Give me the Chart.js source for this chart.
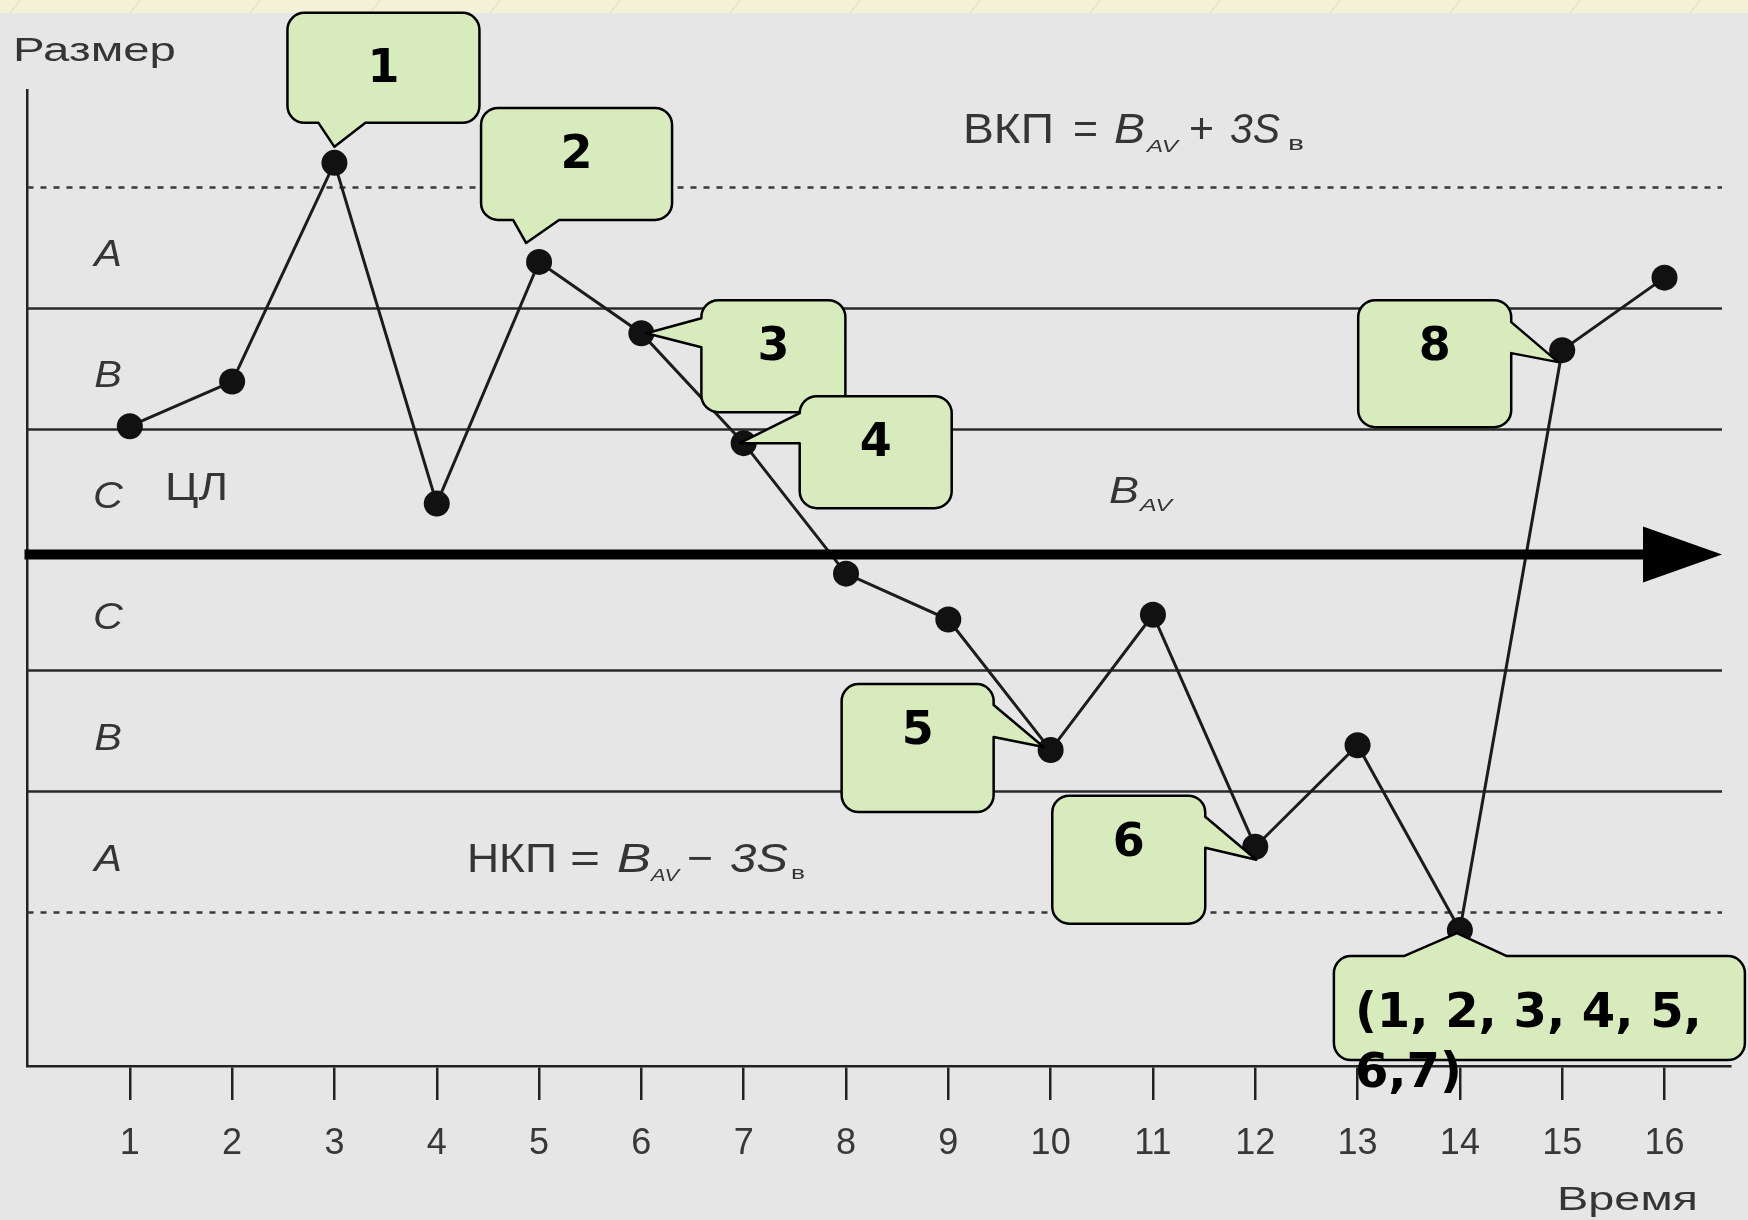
<!DOCTYPE html>
<html>
<head>
<meta charset="utf-8">
<title>Контрольная карта</title>
<script src="https://cdn.jsdelivr.net/npm/chart.js@4.4.1/dist/chart.umd.min.js"></script>
<style>
  html, body { margin: 0; padding: 0; background: #e6e6e6; }
  canvas { display: block; }
</style>
</head>
<body>
<canvas id="chart" width="1748" height="1220"></canvas>
<script>
// Sample moments along the time axis
const times = [1, 2, 3, 4, 5, 6, 7, 8, 9, 10, 11, 12, 13, 14, 15, 16];
// Measured size, expressed in sigmas away from the centre line
const sizes = [1.02, 1.39, 3.20, 0.38, 2.38, 1.79, 0.88, -0.20, -0.58, -1.66, -0.54, -2.46, -1.62, -3.15, 1.65, 2.25];
// Tick captions under the time axis
const timeTicks = ['1', '2', '3', '4', '5', '6', '7', '8', '9', '10', '11', '12', '13', '14', '15', '16'];
// Zone borders (±1σ, ±2σ) and control limits (±3σ)
const zoneBorders = [2, 1, -1, -2];
const controlLimits = [3, -3];
// Zone names and the level of each zone's middle
const zoneNames = ['A', 'B', 'C', 'C', 'B', 'A'];
const zoneMiddles = [2.5, 1.5, 0.5, -0.5, -1.5, -2.5];
// Rule-violation callouts: caption and the sample each one points at
const calloutTexts = ['1', '2', '3', '4', '5', '6', '8', '(1, 2, 3, 4, 5,\n6,7)'];
const calloutTimes = [3, 5, 6, 7, 10, 12, 15, 14];

// Callout shapes, in pixels relative to the marked point
const calloutShapes = [
  { box: [-47, -150, 192, 110], side: 'bottom', base: [-16, 31], tip: [0, -16], textTop: 69 },
  { box: [-58, -154, 191, 112], side: 'bottom', base: [-26, 20], tip: [-13, -19] },
  { box: [60, -33, 144, 112], side: 'left', base: [-15, 14], tip: [5, 0] },
  { box: [56, -47, 152, 112], side: 'left', base: [-30, 0], tip: [-4, 0] },
  { box: [-209, -66, 152, 128], side: 'right', base: [-45, -13], tip: [-7, -3] },
  { box: [-203, -51, 153, 128], side: 'right', base: [-30, 1], tip: [1, 13] },
  { box: [-204, -50, 153, 127], side: 'right', base: [-28, 3], tip: [-4, 12] },
  { box: [-126, 26, 411, 104], side: 'top', base: [-56, 47], tip: [-3, 3], left: 21, textTop: 71, size: 48, lineGap: 60 }
];

const INK = '#222';
const GREY_TEXT = '#353535';
const SANS = '"Liberation Sans", Arial, sans-serif';
const BOLD = '"DejaVu Sans", Verdana, sans-serif';

function drawText(ctx, text, x, y, font, width) {
  ctx.save();
  ctx.font = font;
  ctx.fillStyle = GREY_TEXT;
  ctx.textBaseline = 'alphabetic';
  ctx.textAlign = 'left';
  const natural = ctx.measureText(text).width;
  const sx = width ? width / natural : 1;
  ctx.translate(x, y);
  ctx.scale(sx, 1);
  ctx.fillText(text, 0, 0);
  ctx.restore();
}

// Formula pieces: [text, left, width, size, italic, baselineShift]
function drawFormula(ctx, y, pieces) {
  for (const [t, x, w, size, italic, dy] of pieces) {
    drawText(ctx, t, x, y + (dy || 0), (italic ? 'italic ' : '') + size + 'px ' + SANS, w);
  }
}

function calloutPath(ctx, x, y, w, h, r, p) {
  ctx.beginPath();
  ctx.moveTo(x + r, y);
  if (p.side === 'top') { ctx.lineTo(p.a, y); ctx.lineTo(p.tx, p.ty); ctx.lineTo(p.b, y); }
  ctx.lineTo(x + w - r, y);
  ctx.arcTo(x + w, y, x + w, y + r, r);
  if (p.side === 'right') { ctx.lineTo(x + w, p.a); ctx.lineTo(p.tx, p.ty); ctx.lineTo(x + w, p.b); }
  ctx.lineTo(x + w, y + h - r);
  ctx.arcTo(x + w, y + h, x + w - r, y + h, r);
  if (p.side === 'bottom') { ctx.lineTo(p.b, y + h); ctx.lineTo(p.tx, p.ty); ctx.lineTo(p.a, y + h); }
  ctx.lineTo(x + r, y + h);
  ctx.arcTo(x, y + h, x, y + h - r, r);
  if (p.side === 'left') { ctx.lineTo(x, p.b); ctx.lineTo(p.tx, p.ty); ctx.lineTo(x, p.a); }
  ctx.lineTo(x, y + r);
  ctx.arcTo(x, y, x + r, y, r);
  ctx.closePath();
}

// Page background with the pale decorative strip along the top edge
const backdrop = {
  id: 'backdrop',
  beforeDraw(chart) {
    const ctx = chart.ctx;
    ctx.save();
    ctx.fillStyle = '#e6e6e6';
    ctx.fillRect(0, 0, chart.width, chart.height);
    ctx.fillStyle = '#f3f1d6';
    ctx.fillRect(0, 0, chart.width, 13);
    ctx.strokeStyle = 'rgba(205,200,160,0.55)';
    ctx.lineWidth = 1;
    for (let x = 10; x < chart.width; x += 120) {
      ctx.beginPath();
      ctx.moveTo(x, 13);
      ctx.lineTo(x + 10, 0);
      ctx.stroke();
    }
    ctx.restore();
  }
};

// Zone lines, limit lines and the grey captions of the chart
const zones = {
  id: 'zones',
  beforeDatasetsDraw(chart) {
    const { ctx, chartArea: a, scales: { y } } = chart;
    const x0 = a.left, x1 = a.right - 8;
    ctx.save();
    ctx.strokeStyle = '#2a2a2a';
    ctx.lineWidth = 2.5;
    for (const v of zoneBorders) {
      const py = Math.round(y.getPixelForValue(v)) + 0.5;
      ctx.beginPath(); ctx.moveTo(x0, py); ctx.lineTo(x1, py); ctx.stroke();
    }
    ctx.strokeStyle = '#3a3a3a';
    ctx.lineWidth = 2.5;
    ctx.setLineDash([6, 7]);
    for (const v of controlLimits) {
      const py = Math.round(y.getPixelForValue(v)) + 0.5;
      ctx.beginPath(); ctx.moveTo(x0, py); ctx.lineTo(x1, py); ctx.stroke();
    }
    ctx.setLineDash([]);

    zoneNames.forEach((name, i) => {
      const py = y.getPixelForValue(zoneMiddles[i]) + 6;
      ctx.save();
      ctx.font = 'italic 37px ' + SANS;
      ctx.fillStyle = GREY_TEXT;
      ctx.textAlign = 'center';
      ctx.textBaseline = 'alphabetic';
      ctx.translate(108, py + 13);
      ctx.scale(1.12, 1);
      ctx.fillText(name, 0, 0);
      ctx.restore();
    });

    drawText(ctx, 'Размер', 13, 61, '34px ' + SANS, 163);
    drawText(ctx, 'Время', 1557, 1210, '33px ' + SANS, 141);
    drawText(ctx, 'ЦЛ', 165, 500, '39px ' + SANS, 63);

    const yU = y.getPixelForValue(3), yL = y.getPixelForValue(-3), yC = y.getPixelForValue(0);
    drawFormula(ctx, yU - 44, [
      ['ВКП', 963, 91, 42, false],
      ['=', 1073, 25, 42, false],
      ['B', 1114, 31, 42, true],
      ['AV', 1147, 31, 17, true, 9],
      ['+', 1189, 25, 42, false],
      ['3S', 1230, 50, 42, true],
      ['в', 1288, 16, 20, false, 7]
    ]);
    drawFormula(ctx, yL - 40, [
      ['НКП', 467, 90, 41, false],
      ['=', 570, 30, 41, false],
      ['B', 617, 34, 41, true],
      ['AV', 651, 28, 17, true, 9],
      ['−', 687, 26, 41, false],
      ['3S', 730, 58, 41, true],
      ['в', 791, 14, 19, false, 7]
    ]);
    drawFormula(ctx, yC - 46, [
      ['B', 1109, 30, 36, true],
      ['AV', 1140, 32, 16, true, 8]
    ]);
    ctx.restore();
  },
  afterDatasetsDraw(chart) {
    const { ctx, chartArea: a, scales: { x, y } } = chart;
    ctx.save();
    // centre line drawn as a bold arrow
    const yc = y.getPixelForValue(0) + 5;
    const tipX = a.right - 8, headX = tipX - 79, half = 28;
    ctx.fillStyle = '#000';
    ctx.fillRect(a.left - 3, yc - 5, headX - a.left + 5, 10);
    ctx.beginPath();
    ctx.moveTo(headX, yc - half);
    ctx.lineTo(tipX, yc);
    ctx.lineTo(headX, yc + half);
    ctx.closePath();
    ctx.fill();

    // callouts
    calloutTexts.forEach((text, i) => {
      const s = calloutShapes[i];
      const t = calloutTimes[i];
      const px = x.getPixelForValue(t);
      const py = y.getPixelForValue(sizes[times.indexOf(t)]);
      const [bx, by, bw, bh] = [px + s.box[0], py + s.box[1], s.box[2], s.box[3]];
      const horiz = s.side === 'top' || s.side === 'bottom';
      const ref = horiz ? px : py;
      const p = { side: s.side, a: ref + s.base[0], b: ref + s.base[1], tx: px + s.tip[0], ty: py + s.tip[1] };
      calloutPath(ctx, bx, by, bw, bh, 17, p);
      ctx.fillStyle = '#d8ebbd';
      ctx.fill();
      ctx.strokeStyle = '#000';
      ctx.lineWidth = 2.5;
      ctx.lineJoin = 'round';
      ctx.stroke();

      const size = s.size || 46;
      ctx.font = 'bold ' + size + 'px ' + BOLD;
      ctx.fillStyle = '#000';
      ctx.textBaseline = 'alphabetic';
      const lines = text.split('\n');
      const top = by + (s.textTop || 60);
      lines.forEach((ln, k) => {
        if (s.left !== undefined) {
          ctx.textAlign = 'left';
          ctx.fillText(ln, bx + s.left, top + k * (s.lineGap || 0));
        } else {
          ctx.textAlign = 'center';
          ctx.fillText(ln, bx + bw / 2, top + k * (s.lineGap || 0));
        }
      });
    });
    ctx.restore();
  }
};

new Chart(document.getElementById('chart'), {
  type: 'line',
  data: {
    datasets: [{
      data: times.map((t, i) => ({ x: t, y: sizes[i] })),
      borderColor: '#1c1c1c',
      borderWidth: 3,
      pointRadius: 13,
      pointHoverRadius: 13,
      pointBackgroundColor: '#111',
      pointBorderColor: '#111',
      pointBorderWidth: 0,
      tension: 0,
      clip: false
    }]
  },
  options: {
    responsive: false,
    animation: false,
    devicePixelRatio: 1,
    layout: { padding: { top: 90, right: 18, left: 0, bottom: 0 } },
    plugins: { legend: { display: false }, tooltip: { enabled: false } },
    events: [],
    scales: {
      x: {
        type: 'linear',
        min: 0,
        max: 16.64,
        afterBuildTicks(scale) { scale.ticks = times.map(v => ({ value: v })); },
        afterFit(scale) { scale.height = 154; },
        ticks: {
          autoSkip: false,
          maxRotation: 0,
          padding: 22,
          color: '#383838',
          font: { family: SANS, size: 36 },
          callback: v => timeTicks[times.indexOf(v)] ?? ''
        },
        grid: {
          display: true,
          drawOnChartArea: false,
          drawTicks: true,
          tickLength: 34,
          tickColor: INK,
          tickWidth: 2.5,
          color: INK,
          lineWidth: 2.5
        },
        border: { display: true, color: INK, width: 2.5 }
      },
      y: {
        type: 'linear',
        min: -4.275,
        max: 3.803,
        afterFit(scale) { scale.width = 27.5; },
        ticks: { display: false },
        grid: { display: false },
        border: { display: true, color: INK, width: 2.5 }
      }
    }
  },
  plugins: [backdrop, zones]
});
</script>
</body>
</html>
